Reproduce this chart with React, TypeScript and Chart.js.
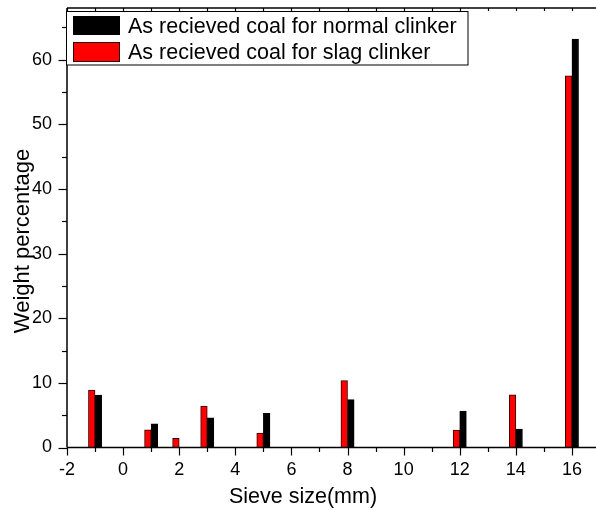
import React, { useEffect, useRef } from "react";
import { Chart, registerables } from "chart.js";

Chart.register(...registerables);

// Sieve fractions (mm) and weight percentages for each coal sample
const slagSizes = [-1, 1, 2, 3, 5, 8, 12, 14, 16];
const slagWeights = [8.9, 2.75, 1.4, 6.4, 2.25, 10.35, 2.7, 8.15, 57.5];
const normalSizes = [-1, 1, 3, 5, 8, 12, 14, 16];
const normalWeights = [8.1, 3.65, 4.6, 5.3, 7.4, 5.65, 2.85, 63.2];

const seriesLabels = [
  "As recieved coal for normal clinker",
  "As recieved coal for slag clinker",
];
const seriesColors = ["#000000", "#ff0000"];

const xTickValues = [-2, 0, 2, 4, 6, 8, 10, 12, 14, 16];
const yTickValues = [0, 10, 20, 30, 40, 50, 60];
const xTitle = "Sieve size(mm)";
const yTitle = "Weight percentage";

const FONT = '"Liberation Sans", Arial, sans-serif';

// Frame, minor/major ticks, axis titles and the boxed legend
const decorations = {
  id: "decorations",
  afterDraw(chart: any) {
    const ctx = chart.ctx as CanvasRenderingContext2D;
    const { left, right, top, bottom } = chart.chartArea;
    const xs = chart.scales.x;
    const ys = chart.scales.y;
    ctx.save();
    ctx.strokeStyle = "#000";

    // frame: left axis, bottom axis, top line
    ctx.lineWidth = 1.5;
    ctx.beginPath();
    ctx.moveTo(left, top);
    ctx.lineTo(left, bottom);
    ctx.moveTo(left, bottom);
    ctx.lineTo(right, bottom);
    ctx.stroke();
    ctx.lineWidth = 1.3;
    ctx.beginPath();
    ctx.moveTo(left, top);
    ctx.lineTo(right, top);
    ctx.stroke();

    // small inward ticks on the top line
    ctx.lineWidth = 1.2;
    for (let v = -2; v <= 17; v += 1) {
      const px = Math.round(xs.getPixelForValue(v)) + 0.5;
      ctx.beginPath();
      ctx.moveTo(px, top);
      ctx.lineTo(px, top + 3);
      ctx.stroke();
    }

    // bottom axis ticks (major on even values)
    for (let v = -2; v <= 17; v += 1) {
      const px = Math.round(xs.getPixelForValue(v)) + 0.5;
      const len = v % 2 === 0 ? 8 : 4.5;
      ctx.beginPath();
      ctx.moveTo(px, bottom);
      ctx.lineTo(px, bottom + len);
      ctx.stroke();
    }

    // left axis ticks (major every 10)
    for (let v = 0; v <= 65; v += 5) {
      const py = Math.round(ys.getPixelForValue(v)) + 0.5;
      const len = v % 10 === 0 ? 8.5 : 5;
      ctx.beginPath();
      ctx.moveTo(left, py);
      ctx.lineTo(left - len, py);
      ctx.stroke();
    }

    // axis titles
    ctx.fillStyle = "#000";
    ctx.textAlign = "center";
    ctx.textBaseline = "middle";
    ctx.font = `21.5px ${FONT}`;
    ctx.fillText(xTitle, 303, 497);
    ctx.save();
    ctx.translate(23, 241);
    ctx.rotate(-Math.PI / 2);
    ctx.font = `22px ${FONT}`;
    ctx.fillText(yTitle, 0, 0);
    ctx.restore();

    // legend box
    ctx.fillStyle = "#fff";
    ctx.fillRect(66.5, 11.5, 401.5, 53.5);
    ctx.lineWidth = 1;
    ctx.strokeStyle = "#000";
    ctx.strokeRect(66.5, 11.5, 401.5, 53.5);

    const rows = [
      { y: 16, h: 19, base: 33.3 },
      { y: 42, h: 20, base: 59.3 },
    ];
    rows.forEach((r, i) => {
      ctx.fillStyle = seriesColors[i];
      ctx.fillRect(73, r.y, 47, r.h);
      ctx.strokeStyle = i === 1 ? "#300000" : "#000";
      ctx.lineWidth = 1;
      ctx.strokeRect(73.5, r.y + 0.5, 46, r.h - 1);
      ctx.fillStyle = "#000";
      ctx.textAlign = "left";
      ctx.textBaseline = "alphabetic";
      ctx.font = `21.5px ${FONT}`;
      ctx.fillText(seriesLabels[i], 128, r.base);
    });
    ctx.restore();
  },
};

export default function App() {
  const canvasRef = useRef<HTMLCanvasElement | null>(null);

  useEffect(() => {
    const canvas = canvasRef.current;
    if (!canvas) return;
    const chart = new Chart(canvas, {
      type: "bar",
      data: {
        datasets: [
          {
            label: seriesLabels[1],
            data: slagSizes.map((x, i) => ({ x, y: slagWeights[i] })),
            backgroundColor: seriesColors[1],
            borderColor: "#300000",
            borderWidth: 1,
            barThickness: 6.6,
          },
          {
            label: seriesLabels[0],
            data: normalSizes.map((x, i) => ({ x, y: normalWeights[i] })),
            backgroundColor: seriesColors[0],
            borderColor: "#000",
            borderWidth: 1,
            barThickness: 6.6,
          },
        ],
      },
      options: {
        responsive: false,
        animation: false,
        devicePixelRatio: 1,
        layout: { padding: { top: 8, left: 0, right: 0, bottom: 0 } },
        plugins: {
          legend: { display: false },
          tooltip: { enabled: false },
        },
        scales: {
          x: {
            type: "linear",
            offset: false,
            min: -2,
            max: 17,
            grid: { display: false, drawTicks: false },
            border: { display: false },
            afterBuildTicks: (scale: any) => {
              scale.ticks = xTickValues.map((value) => ({ value }));
            },
            ticks: {
              font: { family: FONT, size: 18 },
              color: "#000",
              padding: 12,
              maxRotation: 0,
              autoSkip: false,
              callback: (v: any) => String(v),
            },
            afterFit: (scale: any) => {
              scale.height = 62.5;
              scale.paddingLeft = 0;
              scale.paddingRight = 0;
            },
          },
          y: {
            min: 0,
            max: 68,
            grid: { display: false, drawTicks: false },
            border: { display: false },
            afterBuildTicks: (scale: any) => {
              scale.ticks = yTickValues.map((value) => ({ value }));
            },
            ticks: {
              font: { family: FONT, size: 18 },
              color: "#000",
              padding: 15,
              autoSkip: false,
              callback: (v: any) => String(v),
            },
            afterFit: (scale: any) => {
              scale.width = 67;
              scale.paddingTop = 0;
              scale.paddingBottom = 0;
            },
          },
        },
      },
      plugins: [decorations],
    });
    return () => chart.destroy();
  }, []);

  return (
    <div
      style={{
        position: "fixed",
        left: 0,
        top: 0,
        width: 600,
        height: 510,
        background: "#fff",
      }}
    >
      <canvas ref={canvasRef} width={600} height={510} />
    </div>
  );
}
